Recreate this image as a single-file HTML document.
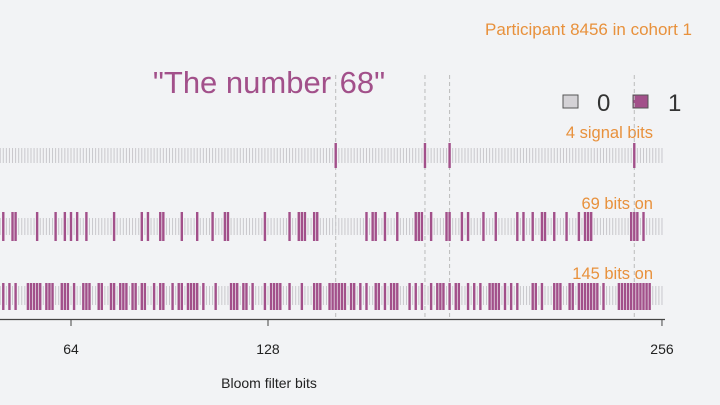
<!DOCTYPE html>
<html><head><meta charset="utf-8"><style>
body{margin:0;background:#f2f3f5;width:720px;height:405px;overflow:hidden;font-family:"Liberation Sans",Arial,sans-serif}
svg{display:block}
</style></head><body>
<svg id="chart" width="720" height="405">
<text x="692" y="35" text-anchor="end" font-size="17" fill="#e8913c">Participant 8456 in cohort 1</text>
<text x="269" y="93" text-anchor="middle" font-size="31" fill="#a2508a">"The number 68"</text>
<g>
<rect x="563" y="95" width="15" height="13" fill="#d4d2d6" stroke="#555" stroke-width="1"/>
<text x="597" y="111" font-size="24" fill="#333">0</text>
<rect x="633" y="95" width="15" height="13" fill="#a2508a" stroke="#555" stroke-width="1"/>
<text x="668" y="111" font-size="24" fill="#333">1</text>
</g>
<text x="653" y="138" text-anchor="end" font-size="16.5" fill="#e8913c">4 signal bits</text>
<text x="653" y="209" text-anchor="end" font-size="16.5" fill="#e8913c">69 bits on</text>
<text x="653" y="279" text-anchor="end" font-size="16.5" fill="#e8913c">145 bits on</text>
<g id="marks"></g>
<line x1="0" y1="319.5" x2="665" y2="319.5" stroke="#444" stroke-width="1.2"/>
<g id="ticks"></g>
<text x="269" y="388" text-anchor="middle" font-size="14" fill="#222">Bloom filter bits</text>
</svg>
<script>
const tickValues = [64, 128, 256];
const signalBits = [150, 179, 187, 247];
const row2Bits = [42,45,46,53,59,62,64,66,69,78,87,89,93,94,100,105,110,114,115,127,135,138,139,140,143,144,160,162,163,166,170,176,177,178,181,186,187,191,193,198,202,209,211,214,217,218,221,225,229,231,232,233,246,247,248,250];
const row3Bits = [42,44,46,50,51,52,53,54,56,57,58,61,62,63,65,68,69,70,73,74,77,78,80,81,82,84,85,87,88,91,93,94,97,99,100,102,103,104,105,107,111,116,117,118,120,121,123,127,129,130,131,132,135,139,143,144,145,148,149,150,151,152,153,155,156,158,160,163,164,166,168,169,170,174,176,178,181,183,184,185,187,189,190,193,195,197,200,201,202,203,205,207,209,214,215,217,221,222,223,226,227,229,230,231,232,233,234,235,237,242,243,244,245,246,247,248,249,250,251,252];
const NS = "http://www.w3.org/2000/svg";
function xs(b){ return 71 + (b - 64) * 3.078; }
const marks = document.getElementById("marks");
const ticksG = document.getElementById("ticks");
signalBits.forEach(b => {
  const l = document.createElementNS(NS, "line");
  l.setAttribute("x1", xs(b)); l.setAttribute("x2", xs(b));
  l.setAttribute("y1", 75); l.setAttribute("y2", 320);
  l.setAttribute("stroke", "#bbb"); l.setAttribute("stroke-dasharray", "4,3");
  
  
  marks.appendChild(l);
});
const rows = [
  {bits: signalBits, gy: 148, gh: 15, py: 143, ph: 25, name: "signal-row"},
  {bits: row2Bits, gy: 218, gh: 17, py: 212, ph: 29, name: "participant-row"},
  {bits: row3Bits, gy: 286, gh: 19, py: 283, ph: 27, name: "cohort-row"}
];
rows.forEach(r => {
  const g = document.createElementNS(NS, "g");
  
  
  for (let b = 1; b <= 256; b++) {
    const x = xs(b);
    if (x < -3) continue;
    const t = document.createElementNS(NS, "rect");
    t.setAttribute("x", x - 0.5); t.setAttribute("y", r.gy);
    t.setAttribute("width", 1); t.setAttribute("height", r.gh);
    t.setAttribute("fill", "#c9c8cc");
    
    
    g.appendChild(t);
  }
  r.bits.forEach(b => {
    const p = document.createElementNS(NS, "rect");
    p.setAttribute("x", xs(b) - 1.2); p.setAttribute("y", r.py);
    p.setAttribute("width", 2.4); p.setAttribute("height", r.ph);
    p.setAttribute("fill", "#a2508a");
    
    
    g.appendChild(p);
  });
  marks.appendChild(g);
});
tickValues.forEach(v => {
  const l = document.createElementNS(NS, "line");
  l.setAttribute("x1", xs(v)); l.setAttribute("x2", xs(v));
  l.setAttribute("y1", 320); l.setAttribute("y2", 326);
  l.setAttribute("stroke", "#444");
  
  
  ticksG.appendChild(l);
  const t = document.createElementNS(NS, "text");
  t.setAttribute("x", xs(v)); t.setAttribute("y", 354);
  t.setAttribute("text-anchor", "middle"); t.setAttribute("font-size", "14");
  t.setAttribute("fill", "#222");
  t.textContent = v;
  
  
  ticksG.appendChild(t);
});
</script>
</body></html>
